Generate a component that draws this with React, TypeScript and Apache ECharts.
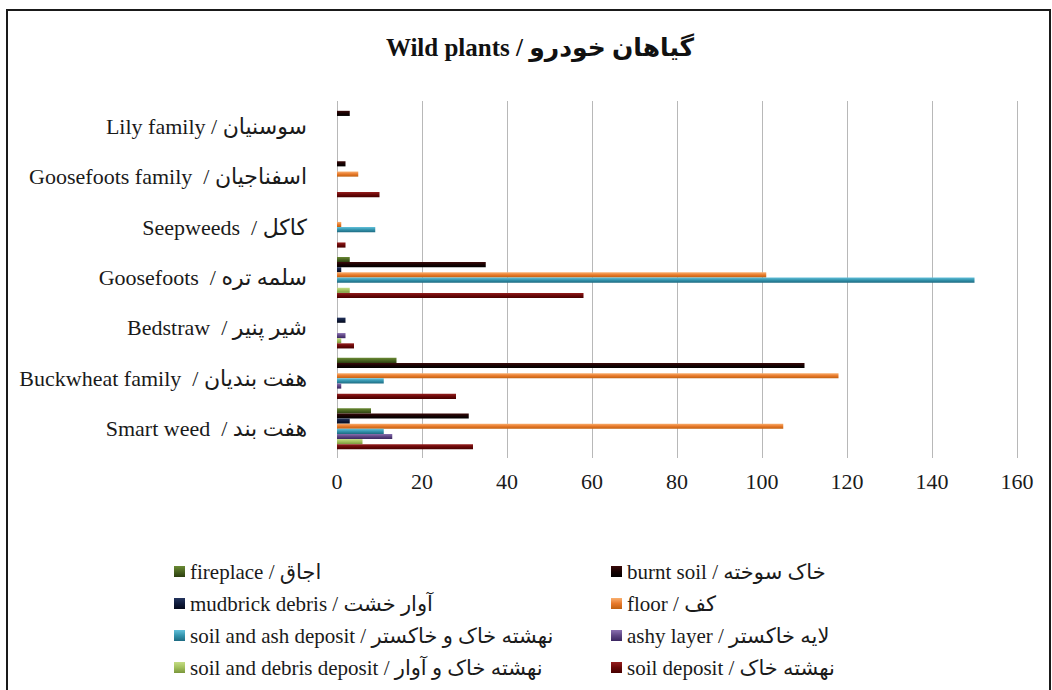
import React, { useEffect, useRef } from "react";
import * as echarts from "echarts";

const titleText = "Wild plants / گیاهان خودرو";

// categories listed bottom to top (as on the value axis)
const categories = [
  "Smart weed  / هفت بند",
  "Buckwheat family  / هفت بندیان",
  "Bedstraw  / شیر پنیر",
  "Goosefoots  / سلمه تره",
  "Seepweeds  / کاکل",
  "Goosefoots family  / اسفناجیان",
  "Lily family / سوسنیان",
];

const seriesNames = [
  "fireplace / اجاق",
  "burnt soil / خاک سوخته",
  "mudbrick debris / آوار خشت",
  "floor / کف",
  "soil and ash deposit / نهشته خاک و خاکستر",
  "ashy layer / لایه خاکستر",
  "soil and debris deposit / نهشته خاک و آوار",
  "soil deposit / نهشته خاک",
];

const fireplace = [8, 14, 0, 3, 0, 0, 0];
const burntSoil = [31, 110, 0, 35, 0, 2, 3];
const mudbrickDebris = [3, 0, 2, 1, 0, 0, 0];
const floor = [105, 118, 0, 101, 1, 5, 0];
const soilAshDeposit = [11, 11, 0, 150, 9, 0, 0];
const ashyLayer = [13, 1, 2, 0, 0, 0, 0];
const soilDebrisDeposit = [6, 0, 1, 3, 0, 0, 0];
const soilDeposit = [32, 28, 4, 58, 2, 10, 0];

const seriesValues = [
  fireplace,
  burntSoil,
  mudbrickDebris,
  floor,
  soilAshDeposit,
  ashyLayer,
  soilDebrisDeposit,
  soilDeposit,
];

const xTicks = { min: 0, max: 160, interval: 20 };

const palette: [string, string, string][] = [
  ["#6a8a34", "#4a6420", "#2c3e10"],
  ["#3a0a0a", "#160202", "#000000"],
  ["#24345e", "#101c3c", "#050a1c"],
  ["#f9b070", "#e8792a", "#c0600f"],
  ["#62c0da", "#3494ad", "#1d6b82"],
  ["#8a70b0", "#5e4684", "#3a2660"],
  ["#c4dc84", "#a2c05c", "#7a963c"],
  ["#961e1e", "#6a0808", "#460000"],
];

const FONT = "Liberation Serif, DejaVu Sans, serif";

export default function App() {
  const ref = useRef<HTMLDivElement>(null);
  useEffect(() => {
    if (!ref.current) return;
    const chart = echarts.init(ref.current, undefined, { renderer: "svg" });
    const series = seriesNames.map((name, i) => ({
      name,
      type: "bar",
      data: seriesValues[i],
      barGap: "0%",
      barCategoryGap: "18.6%",
      itemStyle: {
        color: new echarts.graphic.LinearGradient(0, 0, 0, 1, [
          { offset: 0, color: palette[i][0] },
          { offset: 0.5, color: palette[i][1] },
          { offset: 1, color: palette[i][2] },
        ]),
      },
    }));
    const legendText = {
      fontFamily: FONT,
      fontSize: 21,
      color: "#1a1a1a",
    };
    chart.setOption({
      animation: false,
      backgroundColor: "#ffffff",
      textStyle: { fontFamily: FONT },
      title: {
        text: titleText,
        left: 535,
        top: 30,
        textAlign: "center",
        textStyle: {
          fontFamily: FONT,
          fontSize: 25,
          fontWeight: "bold",
          color: "#111",
        },
      },
      legend: [
        {
          data: [seriesNames[0], seriesNames[2], seriesNames[4], seriesNames[6]],
          orient: "vertical",
          left: 169,
          top: 556,
          itemWidth: 11,
          itemHeight: 11,
          itemGap: 11,
          icon: "rect",
          textStyle: legendText,
        },
        {
          data: [seriesNames[1], seriesNames[3], seriesNames[5], seriesNames[7]],
          orient: "vertical",
          left: 606,
          top: 556,
          itemWidth: 11,
          itemHeight: 11,
          itemGap: 11,
          icon: "rect",
          textStyle: legendText,
        },
      ],
      grid: { left: 337, right: 35, top: 101, height: 353, containLabel: false },
      xAxis: {
        type: "value",
        min: xTicks.min,
        max: xTicks.max,
        interval: xTicks.interval,
        axisLine: { show: false },
        axisTick: { show: true, length: 4, lineStyle: { color: "#b8b8b8" } },
        splitLine: { show: true, lineStyle: { color: "#b8b8b8", width: 1 } },
        axisLabel: { fontFamily: FONT, fontSize: 22, color: "#1a1a1a", margin: 16 },
      },
      yAxis: {
        type: "category",
        data: categories,
        axisLine: { show: false },
        axisTick: { show: false },
        axisLabel: { fontFamily: FONT, fontSize: 22, color: "#1a1a1a", margin: 30 },
      },
      graphic: [
        {
          type: "rect",
          shape: { x: 7, y: 10, width: 1043, height: 700 },
          style: { fill: "none", stroke: "#1a1a1a", lineWidth: 2 },
          silent: true,
        },
      ],
      series,
    });
    return () => chart.dispose();
  }, []);
  return (
    <div
      ref={ref}
      style={{ position: "fixed", left: 0, top: 0, width: 1052, height: 690 }}
    />
  );
}
